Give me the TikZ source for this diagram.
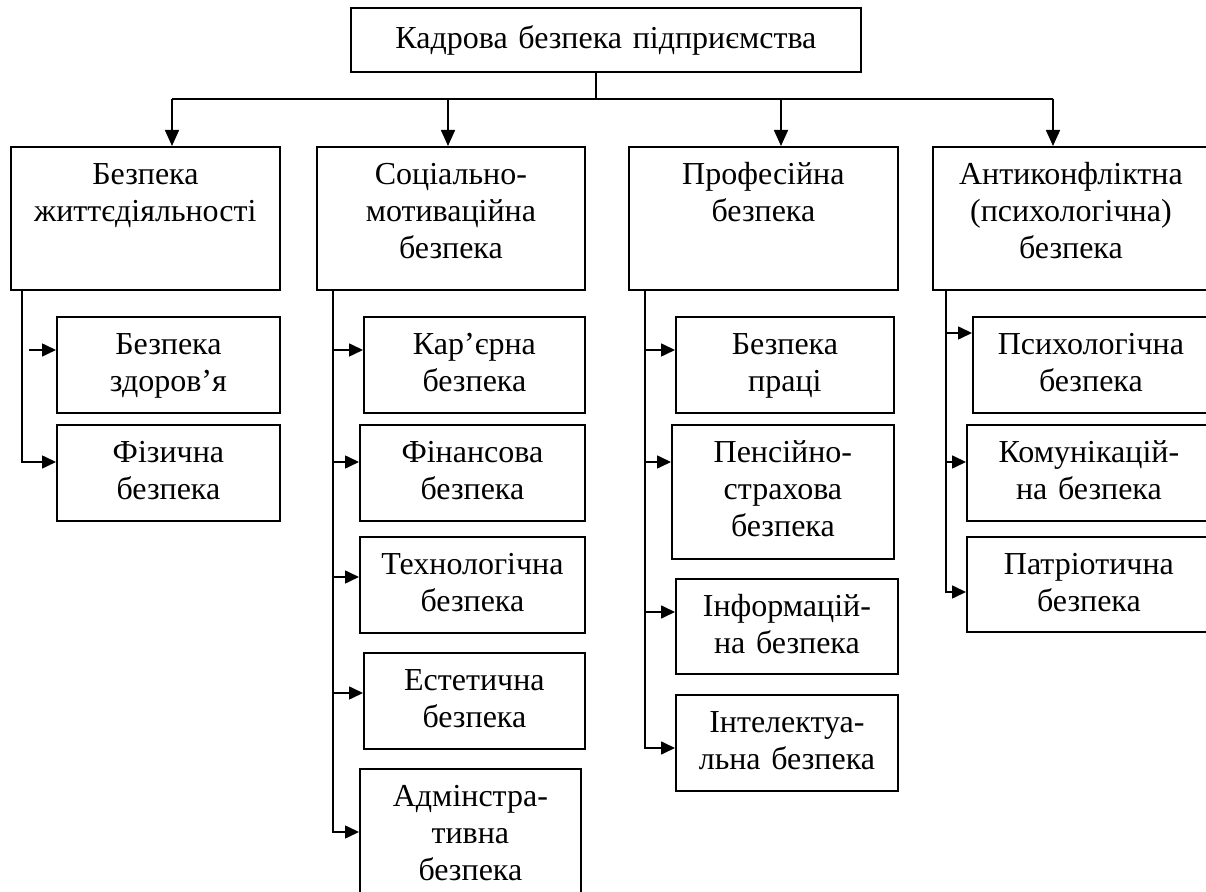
\documentclass[tikz,border=0pt]{standalone}
\usepackage{fontspec}
\setmainfont{Liberation Serif}
\usetikzlibrary{arrows.meta}

\tikzset{
	blk/.style={draw, line width=0.9pt, anchor=north west, align=center, inner sep=0pt,
		text height=19pt, font=\fontsize{16pt}{18.3pt}\selectfont},
	ln/.style={line width=0.8pt},
	marr/.style={ln, -{Triangle[length=8pt,width=7pt]}},
	sarr/.style={ln, -{Triangle[length=7pt,width=6.5pt]}}
}

\begin{document}
\begin{tikzpicture}[x=0.5pt, y=-0.5pt]
	\useasboundingbox (0,0) rectangle (1206,892);
	
	%top box
	\node[blk, text width=255pt, text height=20.5pt, text depth=11.5pt] (kadr) at (350,7) {Кадрова безпека підприємства};
	
	%second level
	\node[blk, text width=134.5pt, text depth=52.5pt] (zhyt) at (10,146) {Безпека\\життєдіяльності};
	\node[blk, text width=134pt, text depth=52.5pt] (soc) at (316,146) {Соціально-\\мотиваційна\\безпека};
	\node[blk, text width=134.5pt, text depth=52.5pt] (prof) at (628,146) {Професійна\\безпека};
	\node[blk, text width=138pt, text depth=52.5pt] (anti) at (932,146) {Антиконфліктна\\(психологічна)\\безпека};
	
	%column 1
	\node[blk, text width=111.5pt, text depth=29pt] (zdor) at (56,316) {Безпека\\здоров’я};
	\node[blk, text width=111.5pt, text depth=29pt] (fiz) at (56,424) {Фізична\\безпека};
	
	%column 2
	\node[blk, text width=110.5pt, text depth=29pt] (kar) at (363,316) {Кар’єрна\\безпека};
	\node[blk, text width=112.5pt, text depth=29pt] (fin) at (359,424) {Фінансова\\безпека};
	\node[blk, text width=112.5pt, text depth=29pt] (tekh) at (359,536) {Технологічна\\безпека};
	\node[blk, text width=110.5pt, text depth=29pt] (est) at (363,652) {Естетична\\безпека};
	\node[blk, text width=110.5pt, text depth=43pt] (adm) at (359,768) {Адмінстра-\\тивна\\безпека};
	
	%column 3
	\node[blk, text width=109pt, text depth=29pt] (prac) at (675,316) {Безпека\\праці};
	\node[blk, text width=111pt, text depth=48pt] (pens) at (671,424) {Пенсійно-\\страхова\\безпека};
	\node[blk, text width=111pt, text depth=28.5pt] (inf) at (675,578) {Інформацій-\\на безпека};
	\node[blk, text width=111pt, text depth=29pt] (intel) at (675,694) {Інтелектуа-\\льна безпека};
	
	%column 4 (cut by the right edge)
	\node[blk, text width=118pt, text depth=29pt] (psykh) at (972,316) {Психологічна\\безпека};
	\node[blk, text width=122pt, text depth=29pt] (komun) at (966,424) {Комунікацій-\\на безпека};
	\node[blk, text width=122pt, text depth=28.5pt] (patr) at (966,536) {Патріотична\\безпека};
	
	%top connectors
	\coordinate (hub) at (596,99);
	\coordinate (h1) at (172,99);
	\coordinate (h2) at (448,99);
	\coordinate (h3) at (781,99);
	\coordinate (h4) at (1053,99);
	\draw[ln] (kadr.south -| hub) -- (hub);
	\draw[ln] (h1) -- (h4);
	\foreach \h/\b in {h1/zhyt, h2/soc, h3/prof, h4/anti}
	\draw[marr] (\h) -- (\h |- \b.north);
	
	%column 1 connectors
	\coordinate (s11) at (29,350);
	\coordinate (s12) at (22,462);
	\draw[sarr] (s11) -- (s11 -| zdor.west);
	\draw[sarr] (zhyt.south -| s12) -- (s12) -- (s12 -| fiz.west);
	
	%column 2 connectors
	\coordinate (s21) at (333,350);
	\coordinate (s22) at (333,462);
	\coordinate (s23) at (333,577);
	\coordinate (s24) at (333,693);
	\coordinate (s25) at (333,832);
	\draw[sarr] (soc.south -| s25) -- (s25) -- (s25 -| adm.west);
	\foreach \s/\b in {s21/kar, s22/fin, s23/tekh, s24/est}
	\draw[sarr] (\s) -- (\s -| \b.west);
	
	%column 3 connectors
	\coordinate (s31) at (645,350);
	\coordinate (s32) at (645,462);
	\coordinate (s33) at (645,612);
	\coordinate (s34) at (645,748);
	\draw[sarr] (prof.south -| s34) -- (s34) -- (s34 -| intel.west);
	\foreach \s/\b in {s31/prac, s32/pens, s33/inf}
	\draw[sarr] (\s) -- (\s -| \b.west);
	
	%column 4 connectors
	\coordinate (s41) at (946,333);
	\coordinate (s42) at (946,462);
	\coordinate (s43) at (946,592);
	\draw[sarr] (anti.south -| s43) -- (s43) -- (s43 -| patr.west);
	\foreach \s/\b in {s41/psykh, s42/komun}
	\draw[sarr] (\s) -- (\s -| \b.west);
\end{tikzpicture}
\end{document}
